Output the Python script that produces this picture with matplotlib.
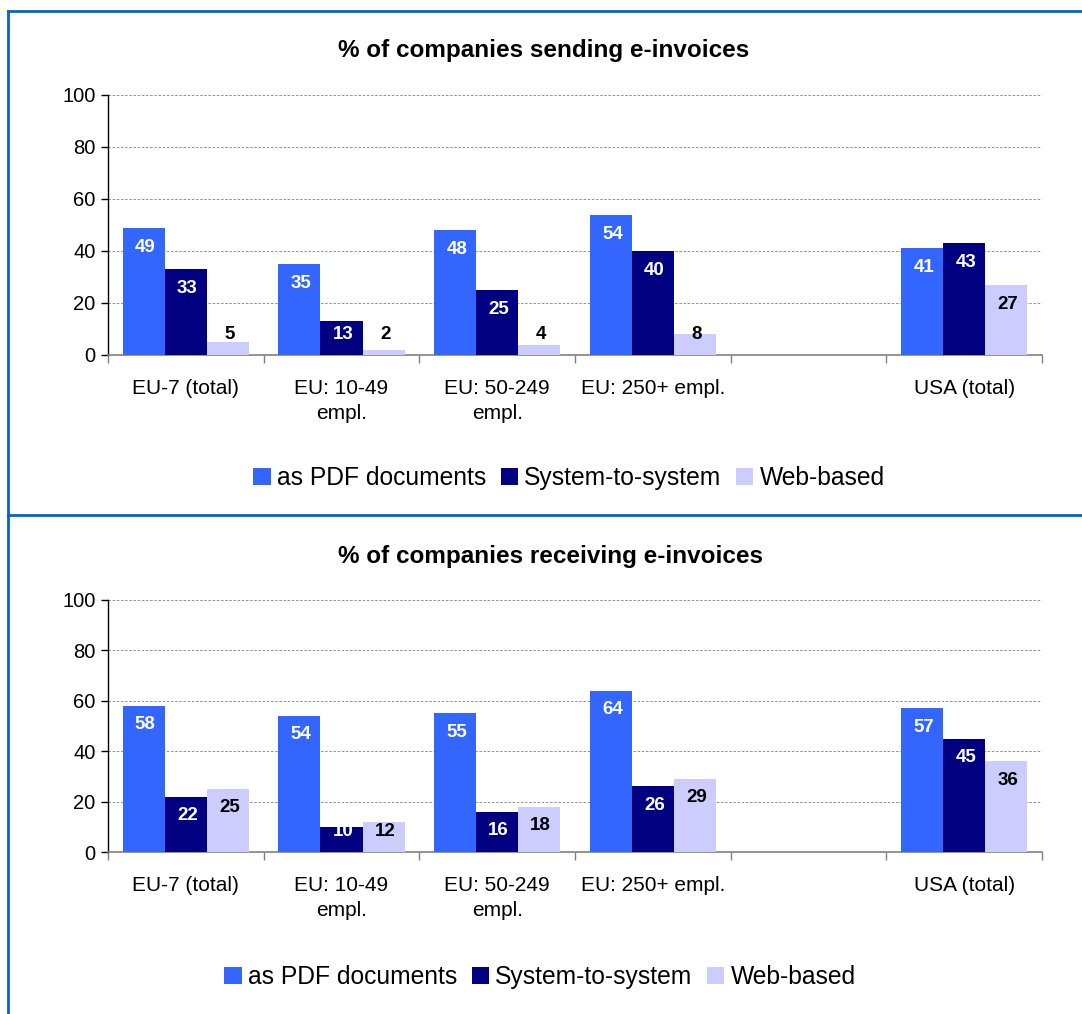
import numpy as np
import matplotlib
matplotlib.use("Agg")
import matplotlib.pyplot as plt
from matplotlib.lines import Line2D
from matplotlib.patches import Patch

plt.rcParams['font.family'] = ['Liberation Sans', 'DejaVu Sans']

categories = ["EU-7 (total)", "EU: 10-49\nempl.", "EU: 50-249\nempl.", "EU: 250+ empl.", "", "USA (total)"]
series = ["as PDF documents", "System-to-system", "Web-based"]
colors = ["#3366FF", "#000080", "#CCCCFF"]
text_colors = ["white", "white", "black"]

sending_pdf = [49, 35, 48, 54, np.nan, 41]
sending_s2s = [33, 13, 25, 40, np.nan, 43]
sending_web = [5, 2, 4, 8, np.nan, 27]

receiving_pdf = [58, 54, 55, 64, np.nan, 57]
receiving_s2s = [22, 10, 16, 26, np.nan, 45]
receiving_web = [25, 12, 18, 29, np.nan, 36]

W, H = 1082, 1014
fig = plt.figure(figsize=(W / 100, H / 100), dpi=100)

# blue frame lines
frame = "#0066CC"
fig.add_artist(Line2D([8 / W, 8 / W], [0, 1 - 11 / H], color=frame, lw=2))
fig.add_artist(Line2D([8 / W, 1], [1 - 11 / H, 1 - 11 / H], color=frame, lw=2))
fig.add_artist(Line2D([8 / W, 1], [1 - 515 / H, 1 - 515 / H], color=frame, lw=2))


def draw_panel(rect, title, data, title_xy, legend_xy):
    ax = fig.add_axes(rect)
    x = np.arange(len(categories))
    bw = 0.27
    for i, (vals, c, tc) in enumerate(zip(data, colors, text_colors)):
        pos = x + (i - 1) * bw
        ax.bar(pos, vals, width=bw, color=c, zorder=3)
        for p, v in zip(pos, vals):
            if np.isnan(v):
                continue
            ax.text(p + 0.01, max(v - 7.5, 8), f"{v:.0f}", ha="center", va="center",
                    color=tc, fontsize=13.5, fontweight="bold", zorder=4)
    ax.set_xlim(-0.5, len(categories) - 0.5)
    ax.set_ylim(0, 100)
    ax.set_yticks(range(0, 101, 20))
    ax.yaxis.grid(True, color="#808080", linestyle=(0, (3, 2)), linewidth=0.6, zorder=0)
    ax.set_xticks(x)
    ax.set_xticklabels(categories, fontsize=15, linespacing=1.4)
    ax.set_xticks(np.arange(-0.5, len(categories)), minor=True)
    ax.tick_params(axis="x", which="major", length=0, pad=17)
    ax.tick_params(axis="x", which="minor", length=6, color="#808080", width=1)
    ax.tick_params(axis="y", length=5, width=1, labelsize=14.5, pad=4)
    for s in ["top", "right"]:
        ax.spines[s].set_visible(False)
    ax.spines["bottom"].set_color("#808080")
    ax.spines["bottom"].set_linewidth(1.2)
    ax.spines["left"].set_linewidth(1)
    fig.text(title_xy[0] / W, 1 - title_xy[1] / H, title, ha="center", va="center",
             fontsize=17.5, fontweight="bold")
    handles = [Patch(facecolor=c, edgecolor="none") for c in colors]
    fig.legend(handles, series, loc="center", bbox_to_anchor=(legend_xy[0] / W, 1 - legend_xy[1] / H),
               ncol=3, frameon=False, fontsize=17.7, handlelength=0.7, handleheight=0.7,
               handletextpad=0.25, columnspacing=0.6)
    return ax


draw_panel([108 / W, 1 - 355 / H, 934 / W, 260 / H], "% of companies sending e-invoices",
           [sending_pdf, sending_s2s, sending_web], (544, 50), (569, 478))
draw_panel([108 / W, 1 - 852 / H, 934 / W, 252 / H], "% of companies receiving e-invoices",
           [receiving_pdf, receiving_s2s, receiving_web], (550, 556), (540, 977))

fig.savefig("out.png", dpi=100)
